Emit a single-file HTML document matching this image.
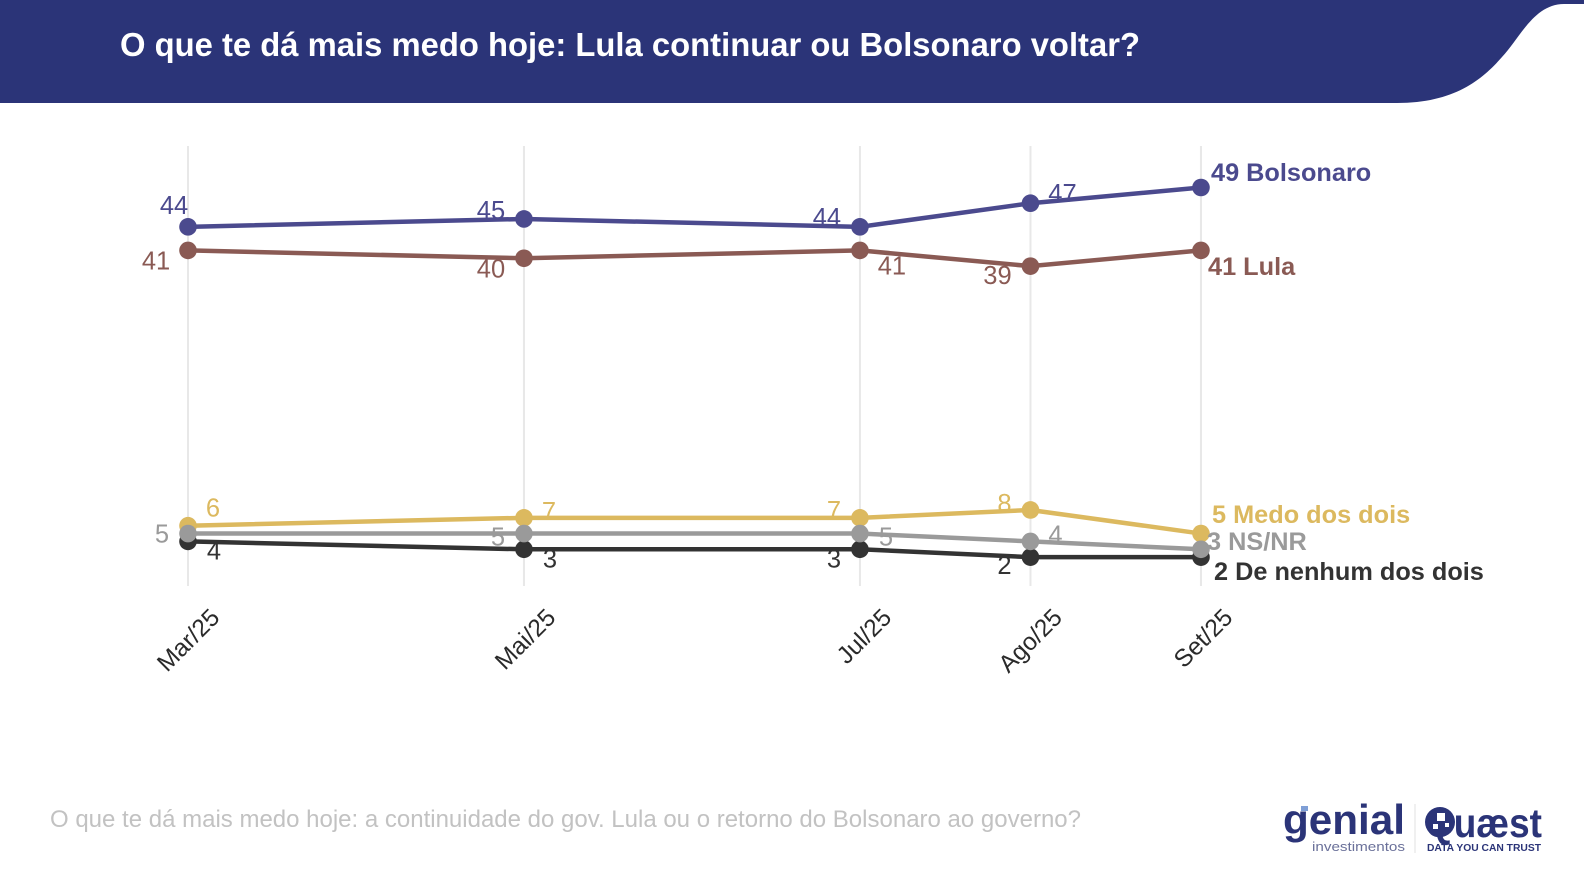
<!DOCTYPE html>
<html lang="pt-BR">
<head>
<meta charset="utf-8">
<title>O que te dá mais medo hoje</title>
<style>
  html, body { margin: 0; padding: 0; background: #fff; }
  body { width: 1584px; height: 876px; overflow: hidden; }
  svg { display: block; font-family: "Liberation Sans", sans-serif; }
</style>
</head>
<body>
<svg id="chart" xmlns="http://www.w3.org/2000/svg" width="1584" height="876" viewBox="0 0 1584 876">
  <path d="M0 0H1584V4H1564C1534 4 1520 38 1502 57C1482 80 1454 103 1397 103H0Z" fill="#2b3478"/>
  <text x="120" y="56" font-size="33" font-weight="700" fill="#ffffff" textLength="1020" lengthAdjust="spacingAndGlyphs">O que te dá mais medo hoje:  Lula continuar ou Bolsonaro voltar?</text>
  <g id="plot"></g>
  <text x="50" y="827" font-size="24" fill="#c2c2c2" textLength="1031" lengthAdjust="spacingAndGlyphs">O que te dá mais medo hoje: a continuidade do gov.  Lula ou o retorno do Bolsonaro ao governo?</text>
  <g>
    <text x="1283" y="834" font-size="42" font-weight="700" fill="#2b3478" textLength="122" lengthAdjust="spacingAndGlyphs">genial</text>
    <rect x="1301" y="806" width="7" height="5" fill="#7f9fd6"/>
    <text x="1312" y="851" font-size="13" fill="#6a7099" textLength="93" lengthAdjust="spacingAndGlyphs">investimentos</text>
    <line x1="1415" y1="804" x2="1415" y2="853" stroke="#e2e2e2" stroke-width="1"/>
    <text x="1425" y="837" font-size="41" font-weight="700" fill="#2b3478" textLength="117" lengthAdjust="spacingAndGlyphs">Quæst</text>
    <circle cx="1440" cy="822" r="15" fill="#2b3478"/>
    <rect x="1437" y="813" width="8" height="8" fill="#ffffff"/>
    <rect x="1445" y="823" width="4" height="4" fill="#ffffff"/>
    <rect x="1433" y="824" width="5" height="5" fill="#ffffff"/>
    <text x="1427" y="851" font-size="10" font-weight="700" fill="#2b3478" textLength="114" lengthAdjust="spacingAndGlyphs">DATA YOU CAN TRUST</text>
  </g>
</svg>
<script>
// Chart data
const monthLabels = ["Mar/25", "Mai/25", "Jul/25", "Ago/25", "Set/25"];
const surveyMonths = [0, 1.99, 3.98, 4.99, 6];
const bolsonaroValues = [44, 45, 44, 47, 49];
const lulaValues = [41, 40, 41, 39, 41];
const nenhumValues = [4, 3, 3, 2, 2];
const medoValues = [6, 7, 7, 8, 5];
const nsnrValues = [5, 5, 5, 4, 3];
const bolsonaroName = "Bolsonaro";
const lulaName = "Lula";
const nenhumName = "De nenhum dos dois";
const medoName = "Medo dos dois";
const nsnrName = "NS/NR";

// Axis functions
function xScale(month) { return 188 + month * 168.83; }
function yScale(value) { return 187.5 + (49 - value) * 7.865; }

const NS = "http://www.w3.org/2000/svg";
const plot = document.getElementById("plot");
function make(tag, parent) {
  const el = document.createElementNS(NS, tag);
  parent.appendChild(el);
  return el;
}

// Layout of value labels relative to their marker (dx, dy)
const seriesList = [
  { key: "bolsonaro", name: bolsonaroName, values: bolsonaroValues, color: "#4b4a8e",
    offsets: [[-14,-22],[-33,-9],[-33,-10],[32,-10]], endX: 1211, endY: 181 },
  { key: "lula", name: lulaName, values: lulaValues, color: "#8a5a54",
    offsets: [[-32,10],[-33,10],[32,15],[-33,9]], endX: 1208, endY: 275 },
  { key: "nenhum", name: nenhumName, values: nenhumValues, color: "#333333",
    offsets: [[26,9],[26,9],[-26,9],[-26,8]], endX: 1214, endY: 580 },
  { key: "medo", name: medoName, values: medoValues, color: "#dcb95f",
    offsets: [[25,-18],[25,-7],[-26,-8],[-26,-7]], endX: 1212, endY: 523 },
  { key: "nsnr", name: nsnrName, values: nsnrValues, color: "#9a9a9a",
    offsets: [[-26,0],[-26,3],[26,3],[25,-7]], endX: 1207, endY: 550 }
];

// Gridlines and x-axis labels
monthLabels.forEach(function (label, i) {
  const x = xScale(surveyMonths[i]);
  const grid = make("line", plot);
  
  
  grid.setAttribute("x1", x);
  grid.setAttribute("x2", x);
  grid.setAttribute("y1", 146);
  grid.setAttribute("y2", 586);
  grid.setAttribute("stroke", "#e8e8e8");
  grid.setAttribute("stroke-width", 2);

  const tick = make("text", plot);
  
  
  tick.setAttribute("transform", "translate(" + (x + 33) + " 619) rotate(-45)");
  tick.setAttribute("text-anchor", "end");
  tick.setAttribute("font-size", 24.5);
  tick.setAttribute("fill", "#2a2a2a");
  tick.textContent = label;
});

// Series
seriesList.forEach(function (s) {
  const group = make("g", plot);
  
  

  const line = make("polyline", group);
  
  
  line.setAttribute("points", s.values.map(function (v, i) {
    return xScale(surveyMonths[i]) + "," + yScale(v);
  }).join(" "));
  line.setAttribute("fill", "none");
  line.setAttribute("stroke", s.color);
  line.setAttribute("stroke-width", 4.5);

  s.values.forEach(function (v, i) {
    const cx = xScale(surveyMonths[i]);
    const cy = yScale(v);
    const dot = make("circle", group);
    
    
    dot.setAttribute("cx", cx);
    dot.setAttribute("cy", cy);
    dot.setAttribute("r", 8.8);
    dot.setAttribute("fill", s.color);

    if (i < s.values.length - 1) {
      const label = make("text", group);
      
      
      label.setAttribute("x", cx + s.offsets[i][0]);
      label.setAttribute("y", cy + s.offsets[i][1] + 9);
      label.setAttribute("text-anchor", "middle");
      label.setAttribute("font-size", 25.5);
      label.setAttribute("fill", s.color);
      label.textContent = v;
    } else {
      const endLabel = make("text", group);
      
      
      endLabel.setAttribute("x", s.endX);
      endLabel.setAttribute("y", s.endY);
      endLabel.setAttribute("font-size", 25.3);
      endLabel.setAttribute("font-weight", 700);
      endLabel.setAttribute("fill", s.color);
      endLabel.textContent = v + " " + s.name;
    }
  });
});
</script>
</body>
</html>
